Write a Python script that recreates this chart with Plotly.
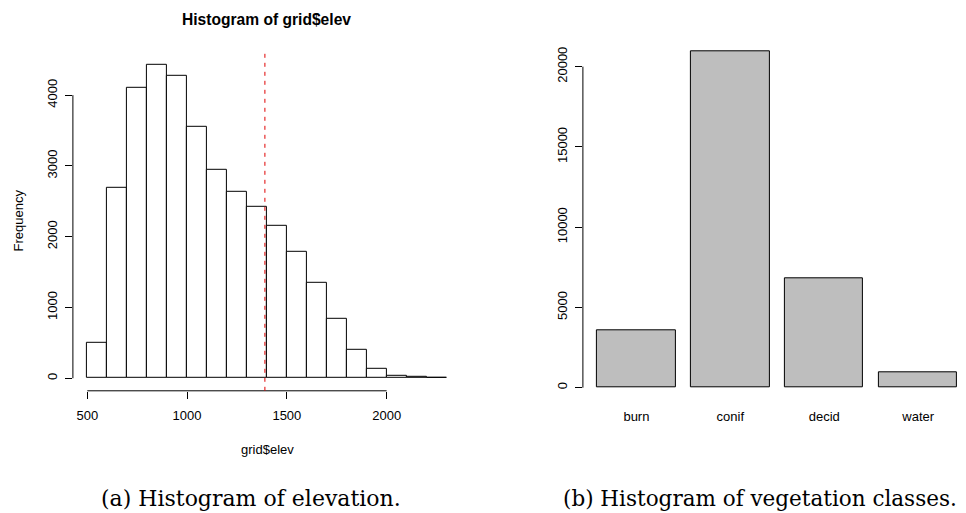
import plotly.graph_objects as go

# Elevation histogram: bin edges and counts
bin_edges = [500, 600, 700, 800, 900, 1000, 1100, 1200, 1300, 1400,
             1500, 1600, 1700, 1800, 1900, 2000, 2100, 2200, 2300]
elev_counts = [503, 2684, 4110, 4435, 4270, 3550, 2940, 2640, 2420,
               2150, 1790, 1350, 833, 395, 127, 33, 14, 4]
elev_mark = 1390
elev_yticks = [0, 1000, 2000, 3000, 4000]
elev_xticks = [500, 1000, 1500, 2000]

# Vegetation class counts
veg_classes = ["burn", "conif", "decid", "water"]
veg_counts = [3600, 20930, 6820, 980]
veg_yticks = [0, 5000, 10000, 15000, 20000]

W, H = 966, 513
SANS = "Liberation Sans"
SERIF = "DejaVu Serif"


def px_x(v):
    return v / W


def px_y(v):
    return (H - v) / H


centers = [(a + b) / 2 for a, b in zip(bin_edges[:-1], bin_edges[1:])]
widths = [b - a for a, b in zip(bin_edges[:-1], bin_edges[1:])]

fig = go.Figure()
fig.add_trace(go.Bar(
    x=centers, y=elev_counts, width=widths,
    marker=dict(color="white", line=dict(color="black", width=1)),
    xaxis="x", yaxis="y", showlegend=False, hoverinfo="x+y",
))
fig.add_trace(go.Bar(
    x=veg_classes, y=veg_counts, width=1 / 1.2,
    marker=dict(color="#bebebe", line=dict(color="black", width=1)),
    xaxis="x2", yaxis="y2", showlegend=False,
))

# R-style padded ranges (4% each side)
e_lo, e_hi = bin_edges[0], bin_edges[-1]
e_pad = 0.04 * (e_hi - e_lo)
c_max = max(elev_counts)
c_pad = 0.04 * c_max
v_max = max(veg_counts)
v_pad = 0.04 * v_max

tickfont = dict(family=SANS, size=13, color="black")

fig.update_layout(
    width=W, height=H,
    margin=dict(l=0, r=0, t=0, b=0),
    paper_bgcolor="white", plot_bgcolor="white",
    xaxis=dict(
        domain=[px_x(72.9), px_x(460.9)],
        range=[e_lo - e_pad, e_hi + e_pad],
        tickvals=elev_xticks, ticks="outside", ticklen=7, tickwidth=1,
        tickcolor="black", showgrid=False, zeroline=False, showline=False,
        tickfont=tickfont, ticklabelstandoff=6, anchor="y",
    ),
    yaxis=dict(
        domain=[px_y(390.8), px_y(51.8)],
        range=[-c_pad, c_max + c_pad],
        tickvals=elev_yticks, ticks="outside", ticklen=7, tickwidth=1,
        tickcolor="black", showgrid=False, zeroline=False, showline=False,
        tickangle=-90, tickfont=tickfont, ticklabelstandoff=3, anchor="x",
        tickformat="d",
    ),
    xaxis2=dict(
        domain=[px_x(582.9), 1.0],
        range=[(0.016 - 0.7) / 1.2, (0.016 + (W - 582.9) / 78.26 - 0.7) / 1.2],
        type="category", ticks="", showgrid=False, zeroline=False,
        showline=False, tickfont=tickfont, ticklabelstandoff=6, anchor="y2",
    ),
    yaxis2=dict(
        domain=[px_y(401.1), px_y(38.3)],
        range=[-v_pad, v_max + v_pad],
        tickvals=veg_yticks, ticks="outside", ticklen=7, tickwidth=1,
        tickcolor="black", showgrid=False, zeroline=False, showline=False,
        tickangle=-90, tickfont=tickfont, ticklabelstandoff=3, anchor="x2",
        tickformat="d",
    ),
    bargap=0,
)

# Axis lines spanning only the tick range, as R draws them
fig.add_shape(type="line", xref="x", yref="y domain",
              x0=elev_xticks[0], x1=elev_xticks[-1], y0=0, y1=0,
              line=dict(color="black", width=1))
fig.add_shape(type="line", xref="x domain", yref="y",
              x0=0, x1=0, y0=elev_yticks[0], y1=elev_yticks[-1],
              line=dict(color="black", width=1))
fig.add_shape(type="line", xref="x2 domain", yref="y2",
              x0=0, x1=0, y0=veg_yticks[0], y1=veg_yticks[-1],
              line=dict(color="black", width=1))

# Dashed reference line across the elevation panel
fig.add_shape(type="line", xref="x", yref="y domain",
              x0=elev_mark, x1=elev_mark, y0=0, y1=1,
              line=dict(color="#e00000", width=1, dash="4px,5px"))

annos = [
    dict(text="<b>Histogram of grid$elev</b>", x=px_x(266.9), y=px_y(19),
         font=dict(family=SANS, size=15.6, color="black")),
    dict(text="Frequency", x=px_x(17.5), y=px_y(221), textangle=-90,
         font=dict(family=SANS, size=13, color="black")),
    dict(text="grid$elev", x=px_x(267), y=px_y(449),
         font=dict(family=SANS, size=13, color="black")),
    dict(text="(a) Histogram of elevation.", x=px_x(251), y=px_y(498),
         font=dict(family=SERIF, size=22, color="black")),
    dict(text="(b) Histogram of vegetation classes.", x=px_x(760), y=px_y(498),
         font=dict(family=SERIF, size=21.5, color="black")),
]
for a in annos:
    a.setdefault("xanchor", "center")
    fig.add_annotation(xref="paper", yref="paper", yanchor="middle",
                       showarrow=False, **a)

fig.write_html("out.html")
